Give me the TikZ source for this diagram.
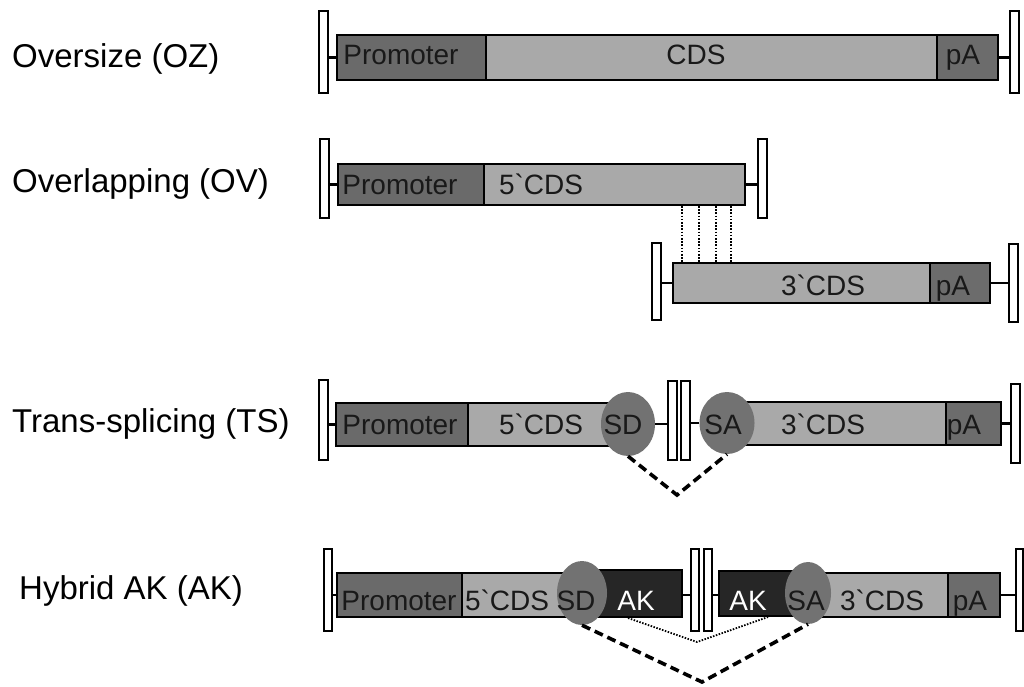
\documentclass[tikz,border=0pt]{standalone}
\usepackage{fontspec}
\setmainfont{Liberation Sans}
\usetikzlibrary{shapes.geometric}
\definecolor{promc}{HTML}{6A6A6A}
\definecolor{cdsc}{HTML}{A9A9A9}
\definecolor{pac}{HTML}{6C6C6C}
\definecolor{sitec}{HTML}{727272}
\definecolor{akc}{HTML}{262626}
\begin{document}
\begin{tikzpicture}[x=1pt,y=-1pt,
  seg/.style={draw=black, line width=2pt, inner sep=0pt, anchor=north west, rectangle},
  brk/.style={draw=black, fill=white, line width=2.3pt, inner sep=0pt, anchor=north west, rectangle, minimum width=9pt},
  site/.style={ellipse, fill=sitec, inner sep=0pt},
  conn/.style={line width=2.2pt},
  lab/.style={anchor=base west, inner sep=0pt, font=\fontsize{33}{38}\selectfont},
  btx/.style={anchor=base, inner sep=0pt, text=black!90, font=\fontsize{28}{33}\selectfont},
  dsh/.style={line width=3.6pt, dash pattern=on 9pt off 5pt},
  dts/.style={line width=2.6pt, dash pattern=on 1.6pt off 1.6pt},
  dtf/.style={line width=1.8pt, dash pattern=on 1.5pt off 1.5pt}]
\useasboundingbox (0,0) rectangle (1024,686);
\fill[white] (0,0) rectangle (1024,686);

% ---------- labels
\node[lab] (lOZ) at (12,67) {Oversize (OZ)};
\node[lab] (lOV) at (12,192) {Overlapping (OV)};
\node[lab] (lTS) at (12,432) {Trans-splicing (TS)};
\node[lab] (lAK) at (19,599) {Hybrid AK (AK)};

% ---------- Row 1: OZ
\node[seg, fill=promc, minimum width=149pt, minimum height=45pt] (ozP) at (336,34) {};
\node[seg, fill=cdsc, minimum width=451pt, minimum height=45pt] (ozC) at (485,34) {};
\node[seg, fill=pac, minimum width=61pt, minimum height=45pt] (ozA) at (936,34) {};
\node[brk, minimum height=82pt] (ozL) at (318,10) {};
\node[brk, minimum height=82pt] (ozR) at (1009,10) {};
\draw[conn] (ozP.west) -- (ozP.west -| ozL.east);
\draw[conn] (ozA.east) -- (ozA.east -| ozR.west);
\node[btx] (ozPt) at (401,64) {Promoter};
\node[btx] (ozCt) at (696,64) {CDS};
\node[btx] (ozAt) at (963,64) {pA};

% ---------- Row 2: OV
\node[seg, fill=promc, minimum width=146pt, minimum height=41pt] (ovP) at (337,163) {};
\node[seg, fill=cdsc, minimum width=261pt, minimum height=41pt] (ovC) at (483,163) {};
\node[brk, minimum height=79pt] (ovL) at (319,138) {};
\node[brk, minimum height=79pt] (ovR) at (757,138) {};
\draw[conn] (ovP.west) -- (ovP.west -| ovL.east);
\draw[conn] (ovC.east) -- (ovC.east -| ovR.west);
\node[btx] (ovPt) at (400,194) {Promoter};
\node[btx] (ovCt) at (541,194) {5\textasciigrave CDS};

\node[seg, fill=cdsc, minimum width=257pt, minimum height=40pt] (ov3) at (672,262) {};
\node[seg, fill=pac, minimum width=60pt, minimum height=40pt] (ovA) at (929,262) {};
\node[brk, minimum height=77pt] (ovL2) at (651,242) {};
\node[brk, minimum height=78pt] (ovR2) at (1008,243) {};
\draw[conn] (ov3.west) -- (ov3.west -| ovL2.east);
\draw[conn] (ovA.east) -- (ovA.east -| ovR2.west);
\node[btx] (ov3t) at (823,295) {3\textasciigrave CDS};
\node[btx] (ovAt) at (953,295) {pA};
\foreach \xx in {682,699,716,731}
  \draw[dts] (ovC.south -| \xx,0) -- (ov3.north -| \xx,0);

% ---------- Row 3: TS
\node[seg, fill=promc, minimum width=132pt, minimum height=43pt] (tsP) at (335,402) {};
\node[seg, fill=cdsc, minimum width=161pt, minimum height=43pt] (tsC) at (467,402) {};
\node[seg, fill=cdsc, minimum width=218pt, minimum height=43pt] (ts3) at (727,401) {};
\node[seg, fill=pac, minimum width=55pt, minimum height=43pt] (tsA) at (945,401) {};
\node[site, minimum width=54pt, minimum height=64pt] (tsSD) at (628,424) {};
\node[site, minimum width=55pt, minimum height=62pt] (tsSA) at (727,423) {};
\node[brk, minimum height=80pt] (tsL) at (318,379) {};
\node[brk, minimum height=79pt] (tsM1) at (667,380) {};
\node[brk, minimum height=79pt] (tsM2) at (680,380) {};
\node[brk, minimum height=79pt] (tsR) at (1010,383) {};
\draw[conn] (tsP.west) -- (tsP.west -| tsL.east);
\draw[conn] (tsSD.east) -- (tsSD.east -| tsM1.west);
\draw[conn] (tsSA.west) -- (tsSA.west -| tsM2.east);
\draw[conn] (tsA.east) -- (tsA.east -| tsR.west);
\node[btx] (tsPt) at (400,434) {Promoter};
\node[btx] (tsCt) at (541,434) {5\textasciigrave CDS};
\node[btx] (tsSDt) at (623,434) {SD};
\node[btx] (tsSAt) at (723,434) {SA};
\node[btx] (ts3t) at (823,434) {3\textasciigrave CDS};
\node[btx] (tsAt) at (964,434) {pA};
\coordinate (tsApex) at (677,495);
\draw[dsh] (tsSD.south) -- (tsApex) -- (tsSA.south);

% ---------- Row 4: AK
\node[seg, fill=promc, minimum width=125pt, minimum height=44pt] (akP) at (336,572) {};
\node[seg, fill=cdsc, minimum width=121pt, minimum height=44pt] (akC) at (461,572) {};
\node[seg, fill=akc, minimum width=99pt, minimum height=47pt] (akK1) at (582,569) {};
\node[seg, fill=akc, minimum width=90pt, minimum height=45pt] (akK2) at (718,570) {};
\node[seg, fill=cdsc, minimum width=139pt, minimum height=44pt] (ak3) at (808,572) {};
\node[seg, fill=pac, minimum width=52pt, minimum height=44pt] (akA) at (947,572) {};
\node[site, minimum width=50pt, minimum height=64pt] (akSD) at (582,593) {};
\node[site, minimum width=46pt, minimum height=62pt] (akSA) at (808,593) {};
\node[brk, minimum width=8pt, minimum height=82pt] (akL) at (323,548) {};
\node[brk, minimum width=8pt, minimum height=82pt] (akM1) at (690,548) {};
\node[brk, minimum width=8pt, minimum height=82pt] (akM2) at (703,548) {};
\node[brk, minimum width=7pt, minimum height=82pt] (akR) at (1015,548) {};
\draw[conn] (akP.west) -- (akP.west -| akL.east);
\draw[conn] (akK1.east |- akP.west) -- (akP.west -| akM1.west);
\draw[conn] (akK2.west |- akP.west) -- (akP.west -| akM2.east);
\draw[conn] (akA.east) -- (akA.east -| akR.west);
\node[btx] (akPt) at (399,610) {Promoter};
\node[btx] (akCt) at (507,610) {5\textasciigrave CDS};
\node[btx] (akSDt) at (576,610) {SD};
\node[btx, text=white] (akK1t) at (636,610) {AK};
\node[btx, text=white] (akK2t) at (748,610) {AK};
\node[btx] (akSAt) at (806,610) {SA};
\node[btx] (ak3t) at (882,610) {3\textasciigrave CDS};
\node[btx] (akAt) at (970,610) {pA};
\coordinate (akApex1) at (697,642);
\coordinate (akApex2) at (702,682);
\draw[dtf] (akK1.south -| 628,0) -- (akApex1) -- (akK2.south -| 768,0);
\draw[dsh] (akSD.south) -- (akApex2) -- (akSA.south);
\end{tikzpicture}
\end{document}
